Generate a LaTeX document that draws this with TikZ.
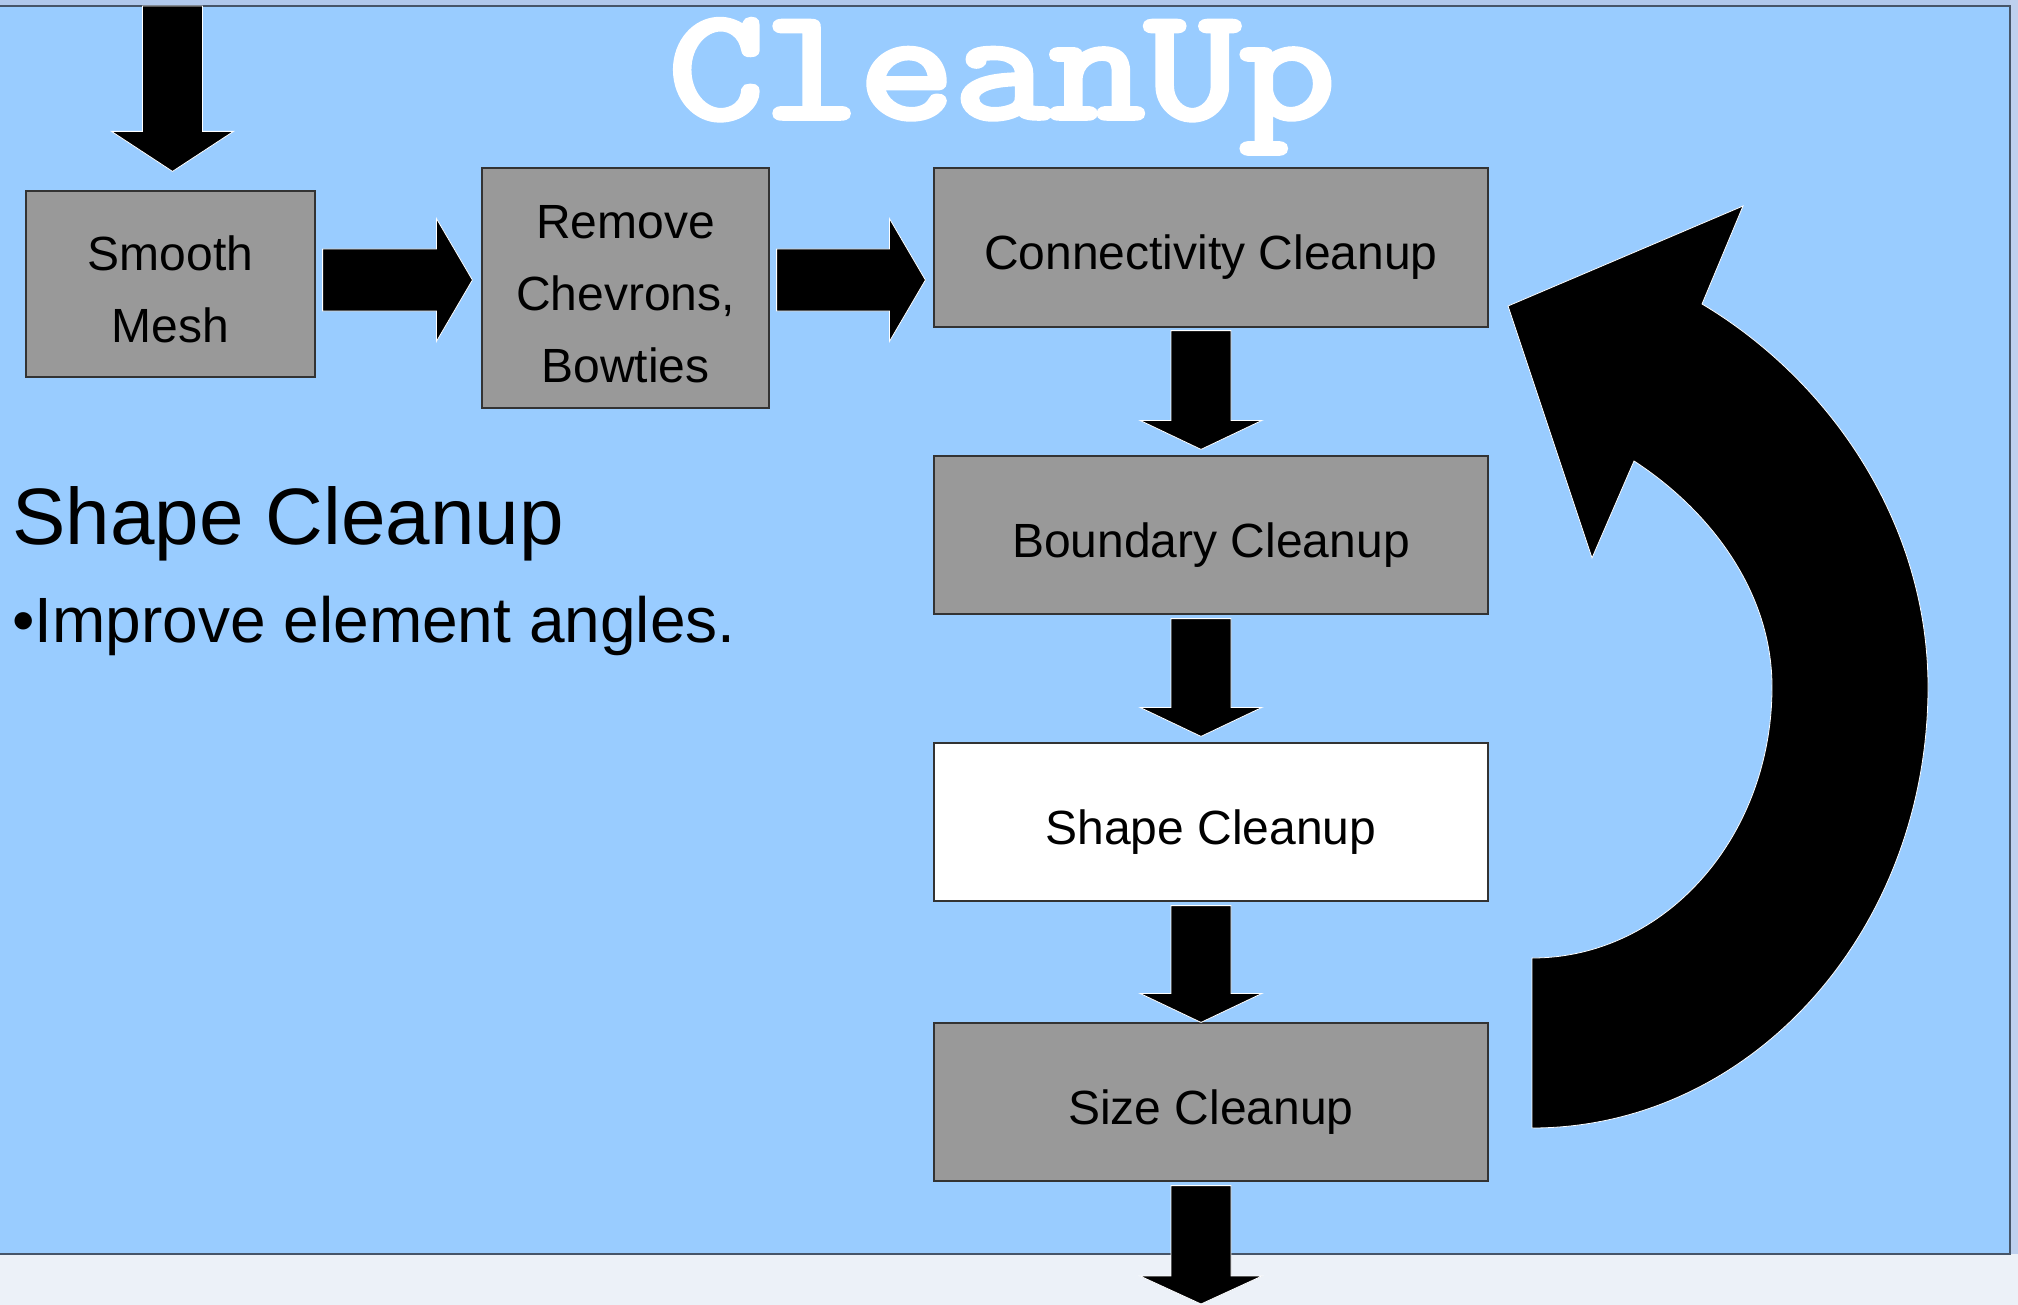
\documentclass[tikz,border=0pt]{standalone}
\usepackage{fontspec}
\setmainfont{Liberation Sans}
\newfontfamily\titlefont{Latin Modern Mono}[FakeBold=3.5]
\usetikzlibrary{calc}
\definecolor{panel}{RGB}{153,204,255}
\definecolor{boxgray}{RGB}{153,153,153}
\definecolor{boxline}{RGB}{51,51,51}
\definecolor{outerbg}{RGB}{236,241,248}
\definecolor{topstrip}{RGB}{176,200,236}
\definecolor{rightstrip}{RGB}{190,208,238}
\definecolor{panelline}{RGB}{70,85,105}
\newcommand\blkdown[3]{\fill[blk] let \p1=(#1), \p2=(#2) in
  (\x2-15pt,\y1) -- (\x2+15pt,\y1) -- (\x2+15pt,\y2+#3) -- (\x2+30.5pt,\y2+#3)
  -- (\x2,\y2) -- (\x2-30.5pt,\y2+#3) -- (\x2-15pt,\y2+#3) -- cycle;}
\newcommand\blkright[3]{\fill[blk] let \p1=(#1), \p2=(#2) in
  (\x1,\y2+15.5pt) -- (\x2-#3,\y2+15.5pt) -- (\x2-#3,\y2+30.75pt) -- (\x2,\y2)
  -- (\x2-#3,\y2-30.75pt) -- (\x2-#3,\y2-15.5pt) -- (\x1,\y2-15.5pt) -- cycle;}
\newcommand\firststrut{\rule{0pt}{22.5pt}}
\begin{document}
\begin{tikzpicture}[x=0.5pt,y=-0.5pt,
  box/.style={draw=boxline, line width=0.6pt, fill=boxgray, inner sep=0pt,
    align=center, font=\fontsize{24}{36}\selectfont},
  single/.style={text height=22pt, text depth=0pt},
  blk/.style={fill=black, draw=white, line width=0.4pt, line join=miter}]
\useasboundingbox (0,0) rectangle (2018,1305);
% backdrop
\fill[outerbg] (0,0) rectangle (2018,1305);
\fill[topstrip] (0,0) rectangle (2018,6);
\fill[rightstrip] (2010,0) rectangle (2018,1254);
\filldraw[fill=panel, draw=panelline, line width=1pt] (-4,6) rectangle (2010,1254);
% title
\node[anchor=base, inner sep=0pt, text=white, font=\titlefont\fontsize{79}{90}\selectfont] (title) at (1002,118) {\scalebox{1.17}[1]{CleanUp}};
% boxes
\node[box, minimum width=144.5pt, minimum height=93pt] (sm) at (170.5,284) {\firststrut Smooth\\Mesh};
\node[box, minimum width=143.5pt, minimum height=120pt] (rc) at (625.5,288) {\firststrut Remove\\Chevrons,\\Bowties};
\node[box, single, minimum width=277pt, minimum height=79.5pt] (cc) at (1211,247.5) {Connectivity Cleanup};
\node[box, single, minimum width=277pt, minimum height=79pt] (bc) at (1211,535) {Boundary Cleanup};
\node[box, single, fill=white, minimum width=277pt, minimum height=79pt] (shc) at (1211,822) {Shape Cleanup};
\node[box, single, minimum width=277pt, minimum height=79pt] (szc) at (1211,1102) {Size Cleanup};
% left texts
\node[anchor=base west, inner sep=0pt, font=\fontsize{40}{48}\selectfont] (head) at (12,544) {Shape Cleanup};
\node[anchor=base west, inner sep=0pt, font=\fontsize{32}{38}\selectfont] (bullet) at (12,642) {•Improve element angles.};
% connector coordinates
\coordinate (in) at (172.5,6);
\coordinate (out) at (1201,1304);
\coordinate (ya) at (0,280);
\path (rc.west |- ya) ++(-9,0) coordinate (tA);
\path (cc.west |- ya) ++(-8,0) coordinate (tB);
% block arrows
\blkdown{in}{$(sm.north)+(2,-19)$}{20pt}
\blkright{$(sm.east)+(7,0)$}{tA}{18pt}
\blkright{$(rc.east)+(7,0)$}{tB}{18pt}
\blkdown{$(cc.south)+(0,3)$}{$(bc.north)+(-10,-6)$}{14.5pt}
\blkdown{$(bc.south)+(0,4)$}{$(shc.north)+(-10,-6)$}{14.5pt}
\blkdown{$(shc.south)+(0,4)$}{$(szc.north)+(-10,0)$}{14.5pt}
\blkdown{$(szc.south)+(0,4)$}{out}{14pt}
% curved loop arrow
\fill[blk] (1532,1128) .. controls (1751,1128) and (1928,931) .. (1928,687)
  .. controls (1928,524) and (1831,381) .. (1702,304)
  -- (1743,206) -- (1508,306) -- (1592,558) -- (1634,461)
  .. controls (1708,509) and (1772,590) .. (1772,687)
  .. controls (1772,837) and (1665,958) .. (1532,958) -- cycle;
\end{tikzpicture}
\end{document}
